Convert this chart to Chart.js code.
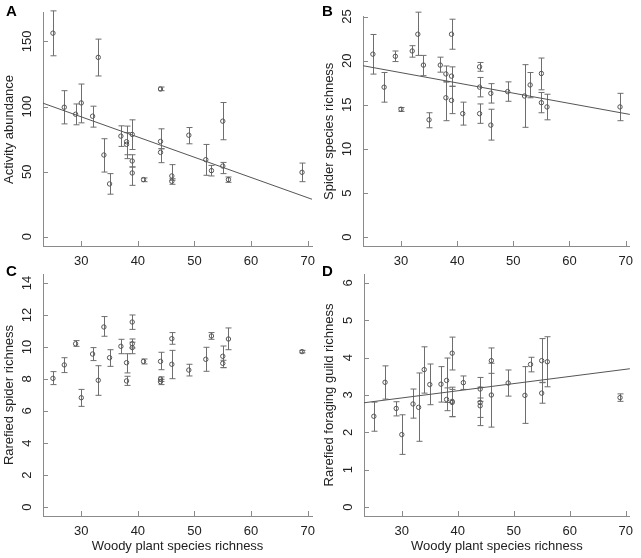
<!DOCTYPE html>
<html><head><meta charset="utf-8">
<script src="https://cdn.jsdelivr.net/npm/chart.js@4.4.1/dist/chart.umd.min.js"></script>
<style>
html,body{margin:0;padding:0;background:#fff;}
#wrap{position:relative;width:641px;height:558px;overflow:hidden;background:#fff;}
canvas{position:absolute;left:0;top:0;}
</style></head><body><div id="wrap">
<canvas id="cA" width="641" height="558"></canvas>
<canvas id="cB" width="641" height="558"></canvas>
<canvas id="cC" width="641" height="558"></canvas>
<canvas id="cD" width="641" height="558"></canvas>
</div>
<script>
// ---- data ----
const woody = [25,27,29,30,32,33,34,35,37,38,38,39,39,39,41,44,44,44,46,46,49,52,53,55,55,56,69];
const xTicks = [30,40,50,60,70];

const abundance   = [156.4,99.5,94.1,102.8,92.6,137.8,62.8,40.6,77.3,73.0,71.0,78.6,58.2,49.0,43.9,113.5,73.2,64.8,46.7,42.6,78.0,59.2,50.8,88.8,54.3,43.9,49.5];
const abundanceHi = [173.5,112.2,102.0,117.3,100.3,151.8,75.3,48.5,85.2,85.0,80.0,89.8,63.0,53.6,45.2,115.0,82.9,67.6,55.4,44.6,83.9,70.9,54.8,103.1,57.1,45.9,56.6];
const abundanceLo = [139.0,86.7,86.0,87.5,84.2,123.5,49.7,32.7,69.4,63.0,60.0,67.0,53.6,39.5,42.3,112.2,67.6,56.9,43.4,40.3,71.4,47.2,46.7,74.5,48.5,41.8,42.3];
const abundanceTicks = [0,50,100,150];
const abundanceFitX = [23.24,70.76];
const abundanceFitY = [102.6,28.8];

const spiders   = [20.74,17.0,20.5,14.5,21.1,23.0,19.5,13.3,19.5,18.5,15.8,23.0,18.25,15.5,14.0,19.3,17.0,14.0,16.3,12.7,16.5,16.0,17.25,18.55,15.24,14.76,14.76];
const spidersHi = [22.97,18.66,21.1,14.7,21.7,25.5,20.6,14.1,20.4,19.4,17.6,24.7,19.3,17.1,15.3,19.8,18.1,15.1,17.4,14.5,17.6,19.55,18.66,20.3,16.4,16.2,16.3];
const spidersLo = [18.48,15.3,19.9,14.25,20.4,20.6,18.3,12.4,18.7,17.6,13.2,21.3,17.1,14.0,12.7,18.8,15.9,12.9,15.2,11.0,15.4,12.45,15.8,16.7,14.1,13.3,13.2];
const spidersTicks = [0,5,10,15,20,25];
const spidersFitX = [23.24,70.76];
const spidersFitY = [19.43,13.91];

const rarefied   = [8.04,8.88,10.2,6.83,9.56,7.92,11.25,9.33,10.04,9.02,7.88,11.56,10.2,9.96,9.1,9.1,8.0,7.83,10.52,8.92,8.56,9.23,10.69,9.42,8.98,10.5,9.71];
const rarefiedHi = [8.46,9.33,10.4,7.35,9.96,8.83,11.9,9.83,10.48,9.58,8.17,12.0,10.5,10.3,9.25,9.67,8.13,7.98,10.9,9.79,8.92,9.98,10.9,10.06,9.17,11.19,9.79];
const rarefiedLo = [7.65,8.4,10.04,6.29,9.15,6.98,10.67,8.79,9.58,8.38,7.6,11.1,9.94,9.58,8.94,8.58,7.85,7.65,10.17,8.02,8.19,8.48,10.48,8.71,8.71,9.83,9.63];
const rarefiedTicks = [0,2,4,6,8,10,12,14];

const guilds   = [2.43,3.34,2.64,1.94,2.76,2.67,3.68,3.28,3.29,3.39,2.88,4.12,2.83,2.8,3.33,3.16,2.8,2.71,3.92,3.0,3.32,2.99,3.82,3.92,3.05,3.89,2.93];
const guildsHi = [2.81,3.78,2.82,2.47,3.16,3.59,4.29,3.83,3.76,3.99,3.19,4.55,3.21,3.15,3.51,3.47,3.21,2.92,4.26,3.85,3.67,3.76,4.01,4.51,3.33,4.56,3.03];
const guildsLo = [2.03,2.89,2.44,1.41,2.38,1.76,3.05,2.74,2.81,2.8,2.58,3.67,2.42,2.42,3.15,2.83,2.40,2.18,3.58,2.14,2.97,2.24,3.62,3.34,2.78,3.22,2.83];
const guildsTicks = [0,1,2,3,4,5,6];
const guildsFitX = [23.24,70.76];
const guildsFitY = [2.792,3.703];

// ---- style ----
const FONT = 'Liberation Sans, Arial, Helvetica, sans-serif';
const TEXT = '#222';
const AXIS = '#8a8a8a';
const PT = '#555';
const BAR = '#6e6e6e';
const W = 641, H = 558;

const measureCtx = document.createElement('canvas').getContext('2d');
measureCtx.font = '13px ' + FONT;
function widest(labels){ return Math.max(...labels.map(l => measureCtx.measureText(String(l)).width)); }

const errorBars = {
  id: 'errorBars',
  beforeDatasetsDraw(chart, args, opts) {
    const {ctx, scales: {x, y}} = chart;
    ctx.save();
    ctx.strokeStyle = BAR; ctx.lineWidth = 1;
    opts.xs.forEach((xv, i) => {
      const px = Math.round(x.getPixelForValue(xv)) + 0.5;
      const pHi = y.getPixelForValue(opts.hi[i]);
      const pLo = y.getPixelForValue(opts.lo[i]);
      ctx.beginPath();
      ctx.moveTo(px, pHi); ctx.lineTo(px, pLo);
      ctx.moveTo(px - 3, pHi); ctx.lineTo(px + 3, pHi);
      ctx.moveTo(px - 3, pLo); ctx.lineTo(px + 3, pLo);
      ctx.stroke();
    });
    ctx.restore();
  }
};

const innerTicks = {
  id: 'innerTicks',
  afterDraw(chart, args, opts) {
    const {ctx, scales: {x, y}, chartArea: a} = chart;
    ctx.save();
    ctx.strokeStyle = AXIS; ctx.lineWidth = 1;
    ctx.beginPath();
    x.ticks.forEach(t => { const p = Math.round(x.getPixelForValue(t.value)) + 0.5; ctx.moveTo(p, a.bottom); ctx.lineTo(p, a.bottom - 5); });
    y.ticks.forEach(t => { const p = Math.round(y.getPixelForValue(t.value)) + 0.5; ctx.moveTo(a.left, p); ctx.lineTo(a.left + 5, p); });
    ctx.stroke();
    ctx.font = 'bold 15px ' + FONT;
    ctx.fillStyle = '#000';
    ctx.textBaseline = 'alphabetic';
    ctx.fillText(opts.letter, opts.lx, opts.ly);
    ctx.restore();
  }
};

function makeChart(id, o) {
  const datasets = [{
    data: woody.map((v, i) => ({x: v, y: o.vals[i]})),
    pointRadius: 2.2, pointBorderWidth: 1,
    pointBorderColor: PT, pointBackgroundColor: 'rgba(0,0,0,0)',
    showLine: false
  }];
  if (o.fitX) {
    datasets.push({
      type: 'line',
      data: o.fitX.map((v, i) => ({x: v, y: o.fitY[i]})),
      borderColor: '#555', borderWidth: 1, pointRadius: 0, fill: false, tension: 0
    });
  }
  const yPad = 16 - widest(o.yTicks) / 2;
  return new Chart(document.getElementById(id), {
    type: 'scatter',
    data: { datasets },
    options: {
      responsive: false, animation: false, devicePixelRatio: 1,
      events: [],
      layout: { padding: { left: o.boxLeft, top: o.top, right: W - o.right, bottom: H - o.bottom - 42 } },
      plugins: {
        legend: { display: false }, tooltip: { enabled: false },
        errorBars: { xs: woody, hi: o.hi, lo: o.lo },
        innerTicks: { letter: o.letter, lx: o.lx, ly: o.ly }
      },
      scales: {
        x: {
          type: 'linear', min: 23.24, max: 70.76,
          afterBuildTicks: s => { s.ticks = xTicks.map(v => ({value: v})); },
          afterFit: s => { s.height = 42; },
          grid: { display: false, drawTicks: false },
          border: { display: true, color: AXIS, width: 1 },
          ticks: { font: { family: FONT, size: 13 }, color: TEXT, padding: 8, autoSkip: false, maxRotation: 0, minRotation: 0 },
          title: { display: !!o.xTitle, text: o.xTitle || '', font: { family: FONT, size: 13 }, color: TEXT, padding: { top: 0, bottom: 3.5 } }
        },
        y: {
          type: 'linear', min: o.yMin, max: o.yMax,
          afterBuildTicks: s => { s.ticks = o.yTicks.map(v => ({value: v})); },
          afterFit: s => { s.width = o.left - o.boxLeft; },
          grid: { display: false, drawTicks: false },
          border: { display: true, color: AXIS, width: 1 },
          ticks: { font: { family: FONT, size: 13 }, color: TEXT, padding: yPad, autoSkip: false, minRotation: 90, maxRotation: 90, crossAlign: 'center' },
          title: { display: true, text: o.yTitle, font: { family: FONT, size: 13 }, color: TEXT, padding: { top: 2, bottom: 0 } }
        }
      }
    },
    plugins: [errorBars, innerTicks]
  });
}

makeChart('cA', { vals: abundance, hi: abundanceHi, lo: abundanceLo, fitX: abundanceFitX, fitY: abundanceFitY,
  yTicks: abundanceTicks, yMin: -7.1, yMax: 171.9, yTitle: 'Activity abundance',
  boxLeft: 0, left: 43, right: 312, top: 12, bottom: 246, letter: 'A', lx: 6, ly: 16 });
makeChart('cB', { vals: spiders, hi: spidersHi, lo: spidersLo, fitX: spidersFitX, fitY: spidersFitY,
  yTicks: spidersTicks, yMin: -1.0, yMax: 25.0, yTitle: 'Spider species richness',
  boxLeft: 320, left: 363, right: 632, top: 12, bottom: 246, letter: 'B', lx: 322, ly: 16 });
makeChart('cC', { vals: rarefied, hi: rarefiedHi, lo: rarefiedLo,
  yTicks: rarefiedTicks, yMin: -0.56, yMax: 14.56, yTitle: 'Rarefied spider richness', xTitle: 'Woody plant species richness',
  boxLeft: 0, left: 43, right: 312, top: 274, bottom: 516, letter: 'C', lx: 6, ly: 276 });
makeChart('cD', { vals: guilds, hi: guildsHi, lo: guildsLo, fitX: guildsFitX, fitY: guildsFitY,
  yTicks: guildsTicks, yMin: -0.24, yMax: 6.24, yTitle: 'Rarefied foraging guild richness', xTitle: 'Woody plant species richness',
  boxLeft: 320, left: 364, right: 632, top: 274, bottom: 516, letter: 'D', lx: 322, ly: 276 });
</script>
</body></html>
